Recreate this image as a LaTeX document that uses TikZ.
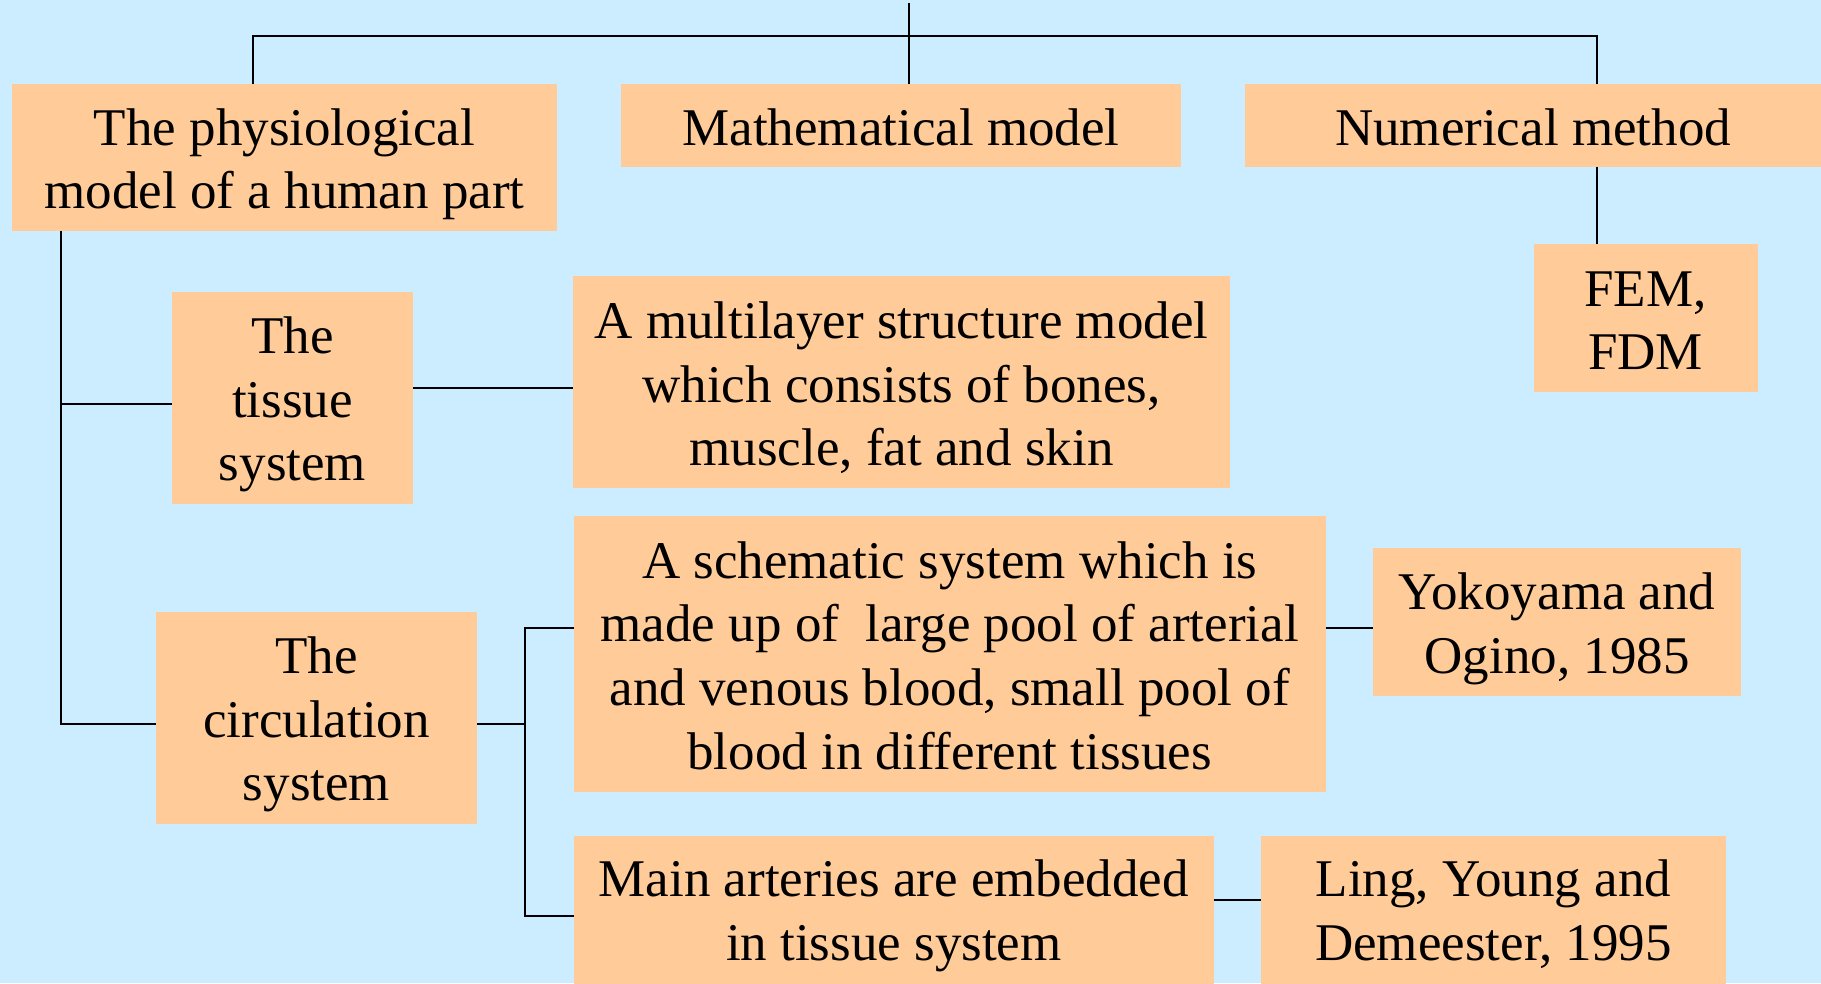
\documentclass[tikz,border=0pt]{standalone}
\usepackage{fontspec}
\setmainfont{Liberation Serif}
\definecolor{bgblue}{HTML}{CCECFF}
\definecolor{peach}{HTML}{FFCC99}
% uniform line struts so every text block is centred the same way
\newcommand{\lstrut}{\rule[-10pt]{0pt}{60pt}}
\newcommand{\lstrutdeep}{\rule[-25pt]{0pt}{75pt}}
\begin{document}
\begin{tikzpicture}[x=1pt,y=-1pt,
  box/.style={fill=peach, draw=none, inner sep=0pt, align=center,
    font=\fontsize{53}{63.6}\selectfont},
  link/.style={draw=black, line width=2pt}]
\useasboundingbox (0,0) rectangle (1821,983);
\fill[bgblue] (0,0) rectangle (1821,983);

% top row
\node[box, minimum width=545pt, minimum height=147pt] (phys) at (284.5,157.5)
  {\lstrut The physiological\\\lstrut model of a human part};
\node[box, minimum width=560pt, minimum height=83pt] (math) at (901,125.5)
  {\lstrut Mathematical model};
\node[box, minimum width=576pt, minimum height=83pt] (num) at (1533,125.5)
  {\lstrut Numerical method};
\node[box, minimum width=224pt, minimum height=148pt] (fem) at (1645.5,318)
  {\lstrut FEM,\\\lstrut FDM};

% tissue branch
\node[box, minimum width=241pt, minimum height=212pt] (tissue) at (292.5,398)
  {\lstrut The\\\lstrut tissue\\\lstrut system};
\node[box, minimum width=657pt, minimum height=212pt] (multi) at (901.5,382)
  {\lstrut A multilayer structure model\\\lstrut which consists of bones,\\\lstrut muscle, fat and skin};

% circulation branch
\node[box, minimum width=321pt, minimum height=212pt] (circ) at (316.5,718)
  {\lstrut The\\\lstrut circulation\\\lstrut system};
\node[box, minimum width=751.5pt, minimum height=275.5pt] (schem) at (949.75,653.75)
  {\lstrut A schematic system which is\\\lstrut made up of\ \ large pool of arterial\\\lstrut and venous blood, small pool of\\\lstrut blood in different tissues};
\node[box, minimum width=368pt, minimum height=148pt] (yoko) at (1557,622)
  {\lstrut Yokoyama and\\\lstrut Ogino, 1985};
\node[box, minimum width=639.7pt, minimum height=160pt] (main) at (893.85,916)
  {\lstrut Main arteries are embedded\\\lstrutdeep in tissue system};
\node[box, minimum width=465pt, minimum height=160pt] (ling) at (1493.5,916)
  {\lstrut Ling, Young and\\\lstrutdeep Demeester, 1995};

% connectors
\coordinate (top) at (909,3);
\coordinate (hl) at (253,36);
\coordinate (hr) at (1597,36);
\coordinate (spine) at (61,0);

\draw[link] (top) -- (top |- math.north);
\draw[link] (hl |- phys.north) -- (hl) -- (hr) -- (hr |- num.north);
\draw[link] (hr |- num.south) -- (hr |- fem.north);

\draw[link] (spine |- phys.south) -- (61,724) -- (circ.west |- 0,724);
\draw[link] (61,404) -- (tissue.west |- 0,404);
\draw[link] (tissue.east |- 0,388) -- (multi.west |- 0,388);

\draw[link] (circ.east |- 0,724) -- (524.5,724);
\draw[link] (schem.west |- 0,628) -- (524.5,628) -- (524.5,916) -- (main.west |- 0,916);
\draw[link] (schem.east |- 0,628) -- (yoko.west |- 0,628);
\draw[link] (main.east |- 0,900) -- (ling.west |- 0,900);
\end{tikzpicture}
\end{document}
